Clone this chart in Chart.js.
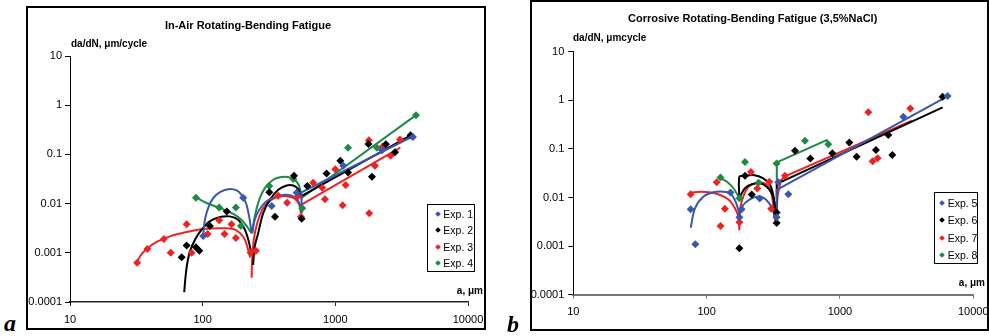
<!DOCTYPE html>
<html><head><meta charset="utf-8">
<script src="https://cdn.jsdelivr.net/npm/chart.js@4"></script>
<style>
body{margin:0;background:#fff;}
#page{position:relative;width:989px;height:336px;overflow:hidden;font-family:"Liberation Sans",Arial,sans-serif;color:#000;}
.frame{position:absolute;border:2px solid #000;box-sizing:border-box;}
canvas{position:absolute;}
.lbl{position:absolute;font-weight:bold;font-size:10px;line-height:12px;white-space:nowrap;}
.legend{position:absolute;border:1px solid #000;background:#fff;box-sizing:border-box;}
.li{position:absolute;font-size:10.5px;line-height:12px;white-space:nowrap;}
.dm{position:absolute;width:4px;height:4px;transform:rotate(45deg);}
.panel{position:absolute;font:italic bold 24px "Liberation Serif","DejaVu Serif",serif;line-height:24px;}
</style></head><body>
<div id="page">
  <div class="frame" style="left:26px;top:6px;width:460px;height:324px;"></div>
  <canvas id="airChart" width="456" height="320" style="left:28px;top:8px;"></canvas>
  <div class="lbl" style="left:71px;top:38px;">da/dN, μm/cycle</div>
  <div class="lbl" style="right:506px;top:285px;">a, μm</div>
  <div class="legend" id="airLegend" style="left:427px;top:204px;width:48px;height:68px;"></div>
  <div class="panel" style="left:4px;top:311px;">a</div>

  <div class="frame" style="left:530px;top:0px;width:459px;height:331px;"></div>
  <canvas id="naclChart" width="455" height="327" style="left:532px;top:2px;"></canvas>
  <div class="lbl" style="left:573px;top:32px;">da/dN, μmcycle</div>
  <div class="lbl" style="right:4px;top:277px;">a, μm</div>
  <div class="legend" id="naclLegend" style="left:934px;top:192px;width:44px;height:72px;"></div>
  <div class="panel" style="left:507px;top:312px;">b</div>
</div>
<script>
// ---------- axis ticks ----------
const xTickValues = [10, 100, 1000, 10000];
const xTickLabels = ['10', '100', '1000', '10000'];
const yTickValues = [0.0001, 0.001, 0.01, 0.1, 1, 10];
const yTickLabels = ['0.0001', '0.001', '0.01', '0.1', '1', '10'];

// ---------- panel a: In-Air, measured points (a in um, da/dN in um/cycle) ----------
const airExp1A = [101, 202, 331, 511, 1148, 2250, 3846];
const airExp1Rate = [0.0022, 0.0132, 0.0089, 0.0166, 0.059, 0.122, 0.227];
const airExp2A = [69.5, 75.7, 89, 94.3, 113.5, 152, 318, 351, 488, 557, 614, 859, 1090, 1247, 1776, 1888, 2405, 2817, 3689];
const airExp2Rate = [0.00081, 0.0014, 0.0013, 0.0011, 0.0035, 0.0069, 0.017, 0.0054, 0.037, 0.0049, 0.0228, 0.041, 0.074, 0.043, 0.162, 0.035, 0.16, 0.11, 0.246];
const airExp3A = [32.1, 38.3, 51, 57.4, 75.7, 82.6, 109, 133, 146, 165, 178, 230, 252, 371, 433, 520, 550, 681, 797, 835, 1000, 1135, 1196, 1790, 1800, 1986, 2270, 2610, 3070];
const airExp3Rate = [0.00063, 0.0012, 0.0019, 0.001, 0.0038, 0.001, 0.0024, 0.0046, 0.0024, 0.0038, 0.002, 0.001, 0.0011, 0.0145, 0.0104, 0.014, 0.0054, 0.0265, 0.021, 0.0122, 0.05, 0.0093, 0.0238, 0.195, 0.0064, 0.059, 0.143, 0.094, 0.2];
const airExp4A = [89, 133, 178, 194, 318, 482, 563, 1247, 2060, 4055];
const airExp4Rate = [0.0132, 0.0083, 0.0083, 0.0035, 0.0228, 0.0315, 0.008, 0.136, 0.136, 0.627];

// ---------- panel a: fitted curves ----------
const airFit1aA = [101, 104, 110, 120, 135, 160, 180, 196, 212, 224, 234];
const airFit1aRate = [0.00233, 0.00471, 0.0081, 0.0129, 0.0171, 0.0197, 0.0185, 0.0151, 0.0103, 0.0055, 0.0025];
const airFit1bA = [236, 247, 267, 303, 360, 429, 495, 534, 556];
const airFit1bRate = [0.0025, 0.0047, 0.0075, 0.0111, 0.014, 0.0151, 0.0136, 0.0103, 0.0064];
const airFit1cA = [556, 556, 3811];
const airFit1cRate = [0.0064, 0.0169, 0.231];

const airFit2aA = [72.6, 74.3, 76.6, 80.2, 87.5, 98.2, 113, 135, 160, 185, 208, 224, 234];
const airFit2aRate = [0.000158, 0.00033, 0.00062, 0.00107, 0.00185, 0.00295, 0.00435, 0.00533, 0.0055, 0.0047, 0.00295, 0.00158, 0.0009];
const airFit2bA = [240, 247, 262, 286, 321, 371, 429, 481, 525, 550];
const airFit2bRate = [0.00057, 0.00135, 0.0025, 0.0064, 0.012, 0.0191, 0.0234, 0.0234, 0.0197, 0.014];
const airFit2cA = [550, 3811];
const airFit2cRate = [0.014, 0.254];

const airFit3aA = [31.8, 33.7, 37.8, 45, 56.7, 75.7, 101, 135, 170, 191, 208, 220, 228];
const airFit3aRate = [0.00062, 0.00085, 0.00119, 0.00166, 0.00216, 0.00264, 0.00304, 0.00314, 0.00304, 0.00252, 0.00185, 0.00116, 0.0008];
const airFit3bA = [234, 236, 243, 258, 286, 330, 382, 441, 495, 534, 550];
const airFit3bRate = [0.00031, 0.00073, 0.00185, 0.00402, 0.0081, 0.012, 0.014, 0.014, 0.0126, 0.0095, 0.0064];
const airFit3cA = [550, 556, 3090];
const airFit3cRate = [0.0064, 0.0095, 0.138];

const airFit4aA = [89, 107, 135, 170, 196, 220, 234];
const airFit4aRate = [0.0134, 0.0103, 0.0081, 0.0062, 0.0047, 0.00319, 0.0025];
const airFit4bA = [236, 247, 267, 294, 340, 393, 454, 509, 540, 556];
const airFit4bRate = [0.0025, 0.0055, 0.012, 0.0207, 0.0305, 0.0346, 0.034, 0.0282, 0.0207, 0.012];
const airFit4cA = [556, 4083];
const airFit4cRate = [0.013, 0.637];

// ---------- panel b: Corrosive (3,5%NaCl), measured points ----------
const naclExp5A = [75.9, 82.2, 151, 176, 183, 250, 335, 345, 410, 2985, 6420];
const naclExp5Rate = [0.00575, 0.00109, 0.0126, 0.0039, 0.0057, 0.0095, 0.0039, 0.0205, 0.0116, 0.46, 1.22];
const naclExp6A = [176, 194, 218, 335, 335, 460, 599, 876, 1175, 1334, 1862, 2305, 2470, 5890];
const naclExp6Rate = [0.0009, 0.028, 0.0115, 0.003, 0.0049, 0.092, 0.0638, 0.081, 0.136, 0.069, 0.095, 0.193, 0.0748, 1.19];
const naclExp7A = [75.9, 119, 127, 137, 176, 215, 240, 295, 305, 387, 1631, 1758, 1916, 3370];
const naclExp7Rate = [0.0116, 0.0205, 0.0026, 0.0059, 0.0031, 0.0334, 0.0154, 0.0211, 0.0059, 0.028, 0.565, 0.056, 0.064, 0.68];
const naclExp8A = [127, 176, 194, 245, 335, 546, 818];
const naclExp8Rate = [0.0259, 0.0096, 0.054, 0.02, 0.05, 0.147, 0.124];

// ---------- panel b: fitted curves ----------
const naclFit5aA = [76, 81.8, 94.4, 112, 133, 150, 163, 173, 176];
const naclFit5aRate = [0.00239, 0.006, 0.0104, 0.0128, 0.0132, 0.0122, 0.0089, 0.0055, 0.004];
const naclFit5bA = [176, 188, 212, 238, 266, 295, 316, 326, 336];
const naclFit5bRate = [0.0044, 0.007, 0.0093, 0.0104, 0.0099, 0.0076, 0.0055, 0.004, 0.0035];
const naclFit5cA = [336, 336, 6440];
const naclFit5cRate = [0.0035, 0.0143, 1.22];

const naclFit6aA = [176, 176, 194, 224, 266, 299, 316, 326, 336];
const naclFit6aRate = [0.0096, 0.0268, 0.0281, 0.029, 0.0248, 0.0181, 0.0113, 0.0055, 0.0032];
const naclFit6bA = [178, 194, 218, 251, 282, 308, 326, 336];
const naclFit6bRate = [0.0104, 0.0155, 0.0187, 0.0196, 0.0167, 0.0122, 0.007, 0.0045];
const naclFit6cA = [336, 336, 5890];
const naclFit6cRate = [0.0045, 0.019, 0.716];

const naclFit7aA = [76, 91.7, 115, 145, 163, 173, 176];
const naclFit7aRate = [0.0126, 0.0132, 0.0122, 0.0092, 0.006, 0.004, 0.0021];
const naclFit7bA = [176, 177, 188, 206, 231, 255, 285, 305, 316, 321, 330];
const naclFit7bRate = [0.0025, 0.0051, 0.0104, 0.0165, 0.0198, 0.0205, 0.018, 0.0125, 0.007, 0.004, 0.0033];
const naclFit7cA = [330, 341, 361, 391, 3460];
const naclFit7cRate = [0.0033, 0.0113, 0.0229, 0.0277, 0.38];

const naclFit8aA = [126, 142, 159, 173, 176];
const naclFit8aRate = [0.0255, 0.0211, 0.0155, 0.0104, 0.0095];
const naclFit8bA = [336, 336, 796, 818];
const naclFit8bRate = [0.0096, 0.053, 0.152, 0.12];

// ---------- styling ----------
const FONT = '"Liberation Sans", Arial, sans-serif';
const COLORS = ['#3b57ad', '#000000', '#ee2222', '#1d8a44'];

const pts = (xs, ys) => xs.map((x, i) => ({x: x, y: ys[i]}));

function makePanel(id, cfg) {
  const datasets = [];
  cfg.markers.forEach((m, i) => datasets.push({
    label: cfg.names[i], data: pts(m[0], m[1]), showLine: false,
    pointStyle: 'rectRot', pointRadius: 4, pointHoverRadius: 4,
    backgroundColor: COLORS[i], borderColor: COLORS[i], borderWidth: 0, order: 0
  }));
  cfg.fits.forEach(f => datasets.push({
    label: cfg.names[f[2]] + ' fit', data: pts(f[0], f[1]), showLine: true,
    pointRadius: 0, borderColor: COLORS[f[2]], borderWidth: 2,
    tension: f[3], fill: false, order: 1
  }));
  return new Chart(document.getElementById(id), {
    type: 'scatter',
    data: {datasets},
    options: {
      responsive: false, animation: false, devicePixelRatio: 1,
      layout: {padding: {left: 0, right: cfg.padRight, top: 0, bottom: 0}},
      plugins: {
        legend: {display: false}, tooltip: {enabled: false},
        title: {display: true, text: cfg.title, color: '#000',
          font: {family: FONT, size: 11, weight: 'bold'},
          padding: {top: cfg.titleTop, bottom: cfg.titleBottom}}
      },
      scales: {
        x: {
          type: 'logarithmic', position: 'bottom', min: 10, max: 10000,
          afterBuildTicks: s => { s.ticks = xTickValues.map(v => ({value: v})); },
          afterFit: s => { s.height = cfg.xHeight; s.paddingLeft = 0; s.paddingRight = 0; },
          ticks: {callback: (v, i) => xTickLabels[i], color: '#000', font: {family: FONT, size: 11},
            padding: 7, maxRotation: 0, autoSkip: false},
          grid: {drawOnChartArea: false, drawTicks: true, tickLength: 4, color: cfg.xAxisColor},
          border: {display: true, color: cfg.xAxisColor, width: cfg.xAxisWidth}
        },
        y: {
          type: 'logarithmic', position: 'left', min: 0.0001, max: 10,
          afterBuildTicks: s => { s.ticks = yTickValues.map(v => ({value: v})); },
          afterFit: s => { s.width = cfg.yWidth; s.paddingTop = 0; s.paddingBottom = 0; },
          ticks: {callback: (v, i) => yTickLabels[i], color: '#000', font: {family: FONT, size: 11},
            padding: cfg.yPad, autoSkip: false},
          grid: {drawOnChartArea: false, drawTicks: true, tickLength: 5, color: '#000'},
          border: {display: true, color: '#000', width: 1}
        }
      }
    }
  });
}

function makeLegend(id, names, rows, markX, textX) {
  const box = document.getElementById(id);
  names.forEach((n, i) => {
    const d = document.createElement('div');
    d.className = 'dm';
    d.style.background = COLORS[i];
    d.style.left = (markX - 2) + 'px';
    d.style.top = (rows[i] - 2) + 'px';
    box.appendChild(d);
    const t = document.createElement('div');
    t.className = 'li';
    t.textContent = n;
    t.style.left = textX + 'px';
    t.style.top = (rows[i] - 6) + 'px';
    box.appendChild(t);
  });
}

const airNames = ['Exp. 1', 'Exp. 2', 'Exp. 3', 'Exp. 4'];
const naclNames = ['Exp. 5', 'Exp. 6', 'Exp. 7', 'Exp. 8'];

makePanel('airChart', {
  title: 'In-Air Rotating-Bending Fatigue', names: airNames,
  titleTop: 11, titleBottom: 23.8, padRight: 16, xHeight: 26, yWidth: 42, yPad: 3,
  xAxisColor: '#222', xAxisWidth: 1.5,
  markers: [[airExp1A, airExp1Rate], [airExp2A, airExp2Rate], [airExp3A, airExp3Rate], [airExp4A, airExp4Rate]],
  fits: [
    [airFit1aA, airFit1aRate, 0, 0.35], [airFit1bA, airFit1bRate, 0, 0.35], [airFit1cA, airFit1cRate, 0, 0],
    [airFit2aA, airFit2aRate, 1, 0.35], [airFit2bA, airFit2bRate, 1, 0.35], [airFit2cA, airFit2cRate, 1, 0],
    [airFit3aA, airFit3aRate, 2, 0.35], [airFit3bA, airFit3bRate, 2, 0.35], [airFit3cA, airFit3cRate, 2, 0],
    [airFit4aA, airFit4aRate, 3, 0.35], [airFit4bA, airFit4bRate, 3, 0.35], [airFit4cA, airFit4cRate, 3, 0]
  ]
});

makePanel('naclChart', {
  title: 'Corrosive Rotating-Bending Fatigue (3,5%NaCl)', names: naclNames,
  titleTop: 10.4, titleBottom: 26.1, padRight: 13.7, xHeight: 34.3, yWidth: 41.3, yPad: 4,
  xAxisColor: '#777', xAxisWidth: 2,
  markers: [[naclExp5A, naclExp5Rate], [naclExp6A, naclExp6Rate], [naclExp7A, naclExp7Rate], [naclExp8A, naclExp8Rate]],
  fits: [
    [naclFit5aA, naclFit5aRate, 0, 0.35], [naclFit5bA, naclFit5bRate, 0, 0.35], [naclFit5cA, naclFit5cRate, 0, 0],
    [naclFit6aA, naclFit6aRate, 1, 0.3], [naclFit6bA, naclFit6bRate, 1, 0.35], [naclFit6cA, naclFit6cRate, 1, 0],
    [naclFit7aA, naclFit7aRate, 2, 0.35], [naclFit7bA, naclFit7bRate, 2, 0.35], [naclFit7cA, naclFit7cRate, 2, 0],
    [naclFit8aA, naclFit8aRate, 3, 0.35], [naclFit8bA, naclFit8bRate, 3, 0]
  ]
});

makeLegend('airLegend', airNames, [9.3, 25.3, 42, 58.3], 9.7, 15.3);
makeLegend('naclLegend', naclNames, [9.5, 27, 44.5, 62], 7, 12.7);
</script>
</body></html>
